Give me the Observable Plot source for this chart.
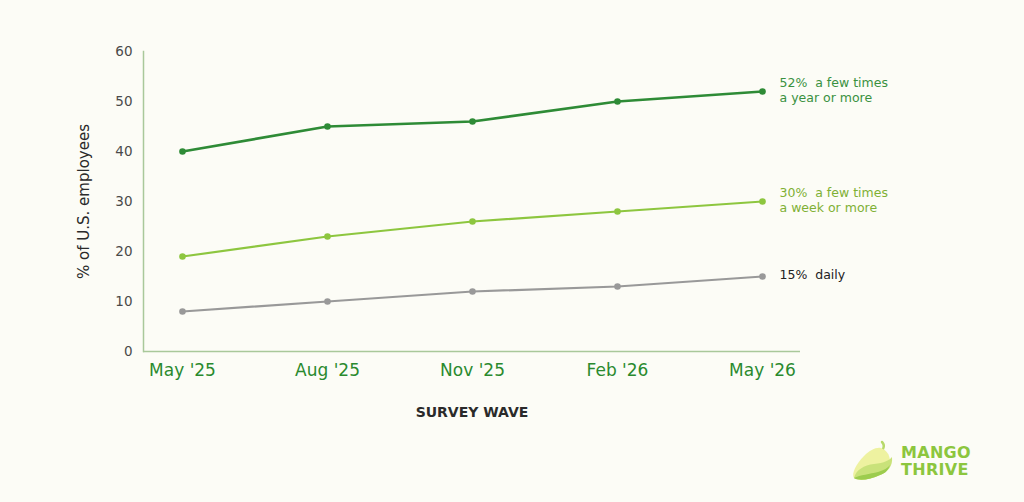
<!DOCTYPE html>
<html><head><meta charset="utf-8">
<script src="https://cdn.jsdelivr.net/npm/d3@7"></script>
<script src="https://cdn.jsdelivr.net/npm/@observablehq/plot@0.6"></script>
<style>
html,body{margin:0;padding:0;background:#fcfcf6;}
#wrap{position:relative;width:1024px;height:502px;font-family:"DejaVu Sans",sans-serif;}
#logo{position:absolute;left:850px;top:438px;display:flex;align-items:center;}
#logo .txt{margin-left:5px;color:#8cc63e;font-weight:700;font-size:16px;line-height:17px;letter-spacing:0.3px;font-family:"DejaVu Sans",sans-serif;}
</style></head>
<body><div id="wrap"><div id="chart"></div>
<div id="logo"><svg width="46" height="46" viewBox="0 0 46 46">
<path d="M32 4 C34 6 34 9 33 11" stroke="#b7d96a" stroke-width="2.5" fill="none" stroke-linecap="round"/>
<path d="M31 10 C42 14 44 30 30 37 C20 42 8 43 4 40 C1 36 6 26 14 18 C20 12 26 9 31 10 Z" fill="#eef2a0"/>
<path d="M4 40 C6 32 14 27 24 26 C34 25 40 22 42 19 C43 28 38 34 30 37 C20 42 8 43 4 40 Z" fill="#c9e27a"/>
<path d="M4 40 C10 37 20 36 28 34 C34 32 38 30 40 27 C38 33 34 36 30 37 C20 42 8 43 4 40 Z" fill="#9ccc4e"/>
</svg><div class="txt">MANGO<br>THRIVE</div></div>
</div>
<script>
const waves = ["May '25", "Aug '25", "Nov '25", "Feb '26", "May '26"];
const yearly = [40, 45, 46, 50, 52];
const weekly = [19, 23, 26, 28, 30];
const daily = [8, 10, 12, 13, 15];
const seriesNames = ["a few times\na year or more", "a few times\na week or more", "daily"];
const seriesColors = ["#2e8b36", "#8dc63f", "#999999"];
const labelColors = ["#3a9140", "#7fb034", "#222222"];
const yTicks = [0, 10, 20, 30, 40, 50, 60];

const allSeries = [yearly, weekly, daily];
const data = [];
allSeries.forEach((vals, s) => vals.forEach((v, i) => data.push({wave: waves[i], value: v, s})));
const lastPts = allSeries.map((vals, s) => ({wave: waves[waves.length-1], value: vals[vals.length-1], s,
  label: `${vals[vals.length-1]}%  ` + seriesNames[s]}));

const plot = Plot.plot({
  width: 1024, height: 502,
  marginLeft: 143, marginRight: 224, marginTop: 51, marginBottom: 151,
  style: {background: "transparent", fontFamily: "DejaVu Sans, sans-serif"},
  x: {type: "point", domain: waves, padding: 0.254},
  y: {domain: [0, 60]},
  marks: [
    Plot.frame({anchor: "left", stroke: "#a9c89a", strokeWidth: 1.5, strokeOpacity: 1}),
    Plot.ruleY([0], {stroke: "#a9c89a", strokeWidth: 1.5}),
    Plot.axisY({ticks: yTicks, tickSize: 0, tickPadding: 11, label: null, fontSize: 13.5, fill: "#4a4a4a"}),
    Plot.axisX({tickSize: 0, tickPadding: 12, label: null, fontSize: 17, fill: "#2a8a2e"}),
    ...allSeries.map((vals, s) => Plot.line(data.filter(d => d.s === s), {x: "wave", y: "value", stroke: seriesColors[s], strokeWidth: s === 0 ? 2.6 : 2.2})),
    ...allSeries.map((vals, s) => Plot.dot(data.filter(d => d.s === s), {x: "wave", y: "value", fill: seriesColors[s], r: 3.3})),
    Plot.text(lastPts, {x: "wave", y: "value", text: "label", dx: 17, dy: -2, textAnchor: "start", lineAnchor: "middle",
      fill: d => labelColors[d.s], fontSize: 12.5, lineHeight: 1.2}),
    Plot.text(["% of U.S. employees"], {frameAnchor: "left", textAnchor: "middle", rotate: -90, dx: -59, fontSize: 15, fill: "#2a2a2a"}),
    Plot.text(["SURVEY WAVE"], {frameAnchor: "bottom", textAnchor: "middle", dy: 65, fontSize: 14, fontWeight: 700, fill: "#2a2a2a", letterSpacing: 1})
  ]
});
document.getElementById("chart").appendChild(plot);
</script>
</body></html>
